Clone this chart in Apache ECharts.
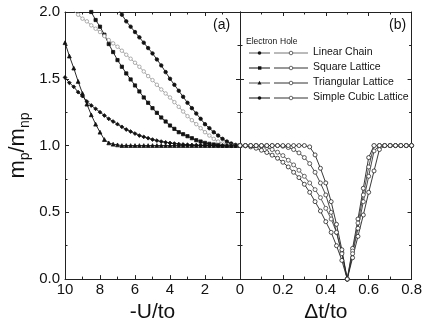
<!DOCTYPE html>
<html><head><meta charset="utf-8">
<script src="https://cdn.jsdelivr.net/npm/echarts@6/dist/echarts.min.js"></script>
<style>html,body{margin:0;padding:0;background:#fff}#c{width:425px;height:328px}</style>
</head><body><div id="c"></div>
<script>
// Panel (a): -U/to grid
const uA = [10,9.75,9.5,9.25,9,8.75,8.5,8.25,8,7.75,7.5,7.25,7,6.75,6.5,6.25,6,5.75,5.5,5.25,5,4.75,4.5,4.25,4,3.75,3.5,3.25,3,2.75,2.5,2.25,2,1.75,1.5,1.25,1,0.75,0.5,0.25,0];
const a1 = [null,null,null,null,null,null,null,null,null,null,null,null,2.03,1.98,1.93,1.89,1.85,1.81,1.77,1.73,1.69,1.645,1.60,1.55,1.50,1.455,1.41,1.365,1.32,1.28,1.24,1.20,1.16,1.13,1.10,1.075,1.05,1.03,1.015,1.005,1.0];
const a2 = [null,null,null,null,null,2.07,2.0,1.94,1.89,1.83,1.76,1.70,1.64,1.59,1.54,1.495,1.45,1.405,1.36,1.32,1.28,1.245,1.21,1.18,1.15,1.125,1.10,1.085,1.07,1.055,1.04,1.03,1.02,1.013,1.008,1.004,1.0,1.0,1.0,1.0,1.0];
const a3 = [null,null,2.007,1.98,1.95,1.93,1.90,1.875,1.85,1.82,1.79,1.765,1.74,1.71,1.68,1.65,1.62,1.59,1.555,1.52,1.49,1.455,1.42,1.39,1.36,1.325,1.29,1.255,1.22,1.19,1.16,1.13,1.10,1.075,1.05,1.03,1.015,1.005,1.0,1.0,1.0];
const a4 = [1.77,1.67,1.58,1.48,1.39,1.31,1.23,1.16,1.10,1.045,1.02,1.01,1.005,1,1,1,1,1,1,1,1,1,1,1,1,1,1,1,1,1,1,1,1,1,1,1,1,1,1,1,1];
const a5 = [1.51,1.47,1.44,1.40,1.37,1.33,1.30,1.275,1.25,1.225,1.20,1.18,1.16,1.14,1.12,1.105,1.09,1.075,1.065,1.055,1.045,1.037,1.03,1.024,1.019,1.015,1.011,1.008,1.006,1.004,1.003,1.002,1.001,1,1,1,1,1,1,1,1];

// Panel (b): Δt/to grid
const tB = [0,0.025,0.05,0.075,0.1,0.125,0.15,0.175,0.2,0.225,0.25,0.275,0.3,0.325,0.35,0.375,0.4,0.425,0.45,0.475,0.5,0.525,0.55,0.575,0.6,0.625,0.65,0.675,0.7,0.725,0.75,0.775,0.8];
const bLinear = [1.0,0.998,0.99,0.98,0.965,0.948,0.928,0.905,0.875,0.84,0.80,0.76,0.71,0.65,0.58,0.51,0.43,0.35,0.25,0.14,0,0.23,0.45,0.68,0.91,1,1,1,1,1,1,1,1];
const bSquare = [1,1,1,1,0.995,0.985,0.97,0.95,0.925,0.89,0.855,0.815,0.77,0.72,0.67,0.61,0.53,0.45,0.35,0.2,0,0.21,0.42,0.63,0.84,1,1,1,1,1,1,1,1];
const bTriangular = [1,1,1,1,1,1,1,1,0.995,0.985,0.97,0.945,0.91,0.865,0.80,0.72,0.63,0.5,0.35,0.19,0,0.19,0.38,0.58,0.77,0.96,1,1,1,1,1,1,1];
const bCubic = [1,1,1,1,1,1,1,1,1,1,1,1,1,0.99,0.93,0.83,0.72,0.58,0.41,0.22,0,0.16,0.32,0.48,0.65,0.81,0.97,1,1,1,1,1,1];

const yTicks = ['0.0','0.5','1.0','1.5','2.0'];
const legendNames = ['Linear Chain','Square Lattice','Triangular Lattice','Simple Cubic Lattice'];

function pairs(xs, ys){ const r=[]; xs.forEach((x,i)=>{ if(ys[i]!==null) r.push([x,ys[i]]); }); return r; }

const FONT = 'Liberation Sans';
const AX = '#222';
const lineAxis = {show:true, onZero:false, lineStyle:{color:AX,width:1}};
const tick = {show:true, inside:true, length:4, lineStyle:{color:AX}};
const minor = {show:true, splitNumber:2, length:2.5, lineStyle:{color:AX}};
const lbl = {color:'#111', fontSize:15, fontFamily:FONT};

function xAx(grid, pos, show, extra){
  return Object.assign({type:'value', gridIndex:grid, position:pos, axisLine:lineAxis, axisTick:tick, minorTick:minor, splitLine:{show:false},
    axisLabel:Object.assign({show:show, margin:3}, lbl)}, extra);
}
function yAx(grid, pos, show, extra){
  return Object.assign({type:'value', gridIndex:grid, position:pos, min:0, max:2, interval:0.5, axisLine:lineAxis, axisTick:tick, minorTick:minor, splitLine:{show:false},
    axisLabel:Object.assign({show:show, margin:5, formatter:v=>yTicks[Math.round(v/0.5)]}, lbl)}, extra);
}

const aX = {min:0,max:10,interval:2,inverse:true};
const bX = {min:0,max:0.8,interval:0.2};

function sA(ys, sym, color, fill, size){
  return {type:'line', xAxisIndex:0, yAxisIndex:0, data:pairs(uA,ys), symbol:sym, symbolSize:size, showSymbol:true,
    lineStyle:{color:color,width:0.9}, itemStyle:{color:fill, borderColor:color, borderWidth:0.8}, clip:true, silent:true};
}
function sB(name, ys, color){
  return {type:'line', name:name, xAxisIndex:2, yAxisIndex:2, data:pairs(tB,ys), symbol:'circle', symbolSize:4, showSymbol:true,
    lineStyle:{color:color,width:0.9}, itemStyle:{color:'#fff', borderColor:color, borderWidth:0.8}, clip:true, silent:true};
}

// legend graphics
const rowsY = [53,68,83,98];
const eSyms = ['circle','rect','triangle','circle'];
const g = [];
g.push({type:'text', left:246, top:37, style:{text:'Electron', font:'8.5px '+FONT, fill:'#111'}});
g.push({type:'text', left:280, top:37, style:{text:'Hole', font:'8.5px '+FONT, fill:'#111'}});
rowsY.forEach((y,i)=>{
  g.push({type:'line', shape:{x1:249,y1:y,x2:270,y2:y}, style:{stroke:i%2===0?'#555':'#111', lineWidth:1}});
  if(eSyms[i]==='rect') g.push({type:'rect', shape:{x:258,y:y-1.7,width:3.4,height:3.4}, style:{fill:'#111'}});
  else if(eSyms[i]==='triangle') g.push({type:'polygon', shape:{points:[[259.5,y-2.2],[257.5,y+1.5],[261.5,y+1.5]]}, style:{fill:'#111'}});
  else g.push({type:'circle', shape:{cx:259.5,cy:y,r:1.8}, style:{fill:'#111'}});
  g.push({type:'line', shape:{x1:274,y1:y,x2:308,y2:y}, style:{stroke:i===0?'#777':'#333', lineWidth:1}});
  g.push({type:'circle', shape:{cx:291,cy:y,r:1.8}, style:{fill:'#fff', stroke:'#444', lineWidth:0.8}});
  g.push({type:'text', left:313, top:y-6, style:{text:legendNames[i], font:'10.5px '+FONT, fill:'#111'}});
});
g.push({type:'text', left:213, top:18, style:{text:'(a)', font:'14px '+FONT, fill:'#111'}});
g.push({type:'text', left:389, top:18, style:{text:'(b)', font:'14px '+FONT, fill:'#111'}});

const option = {
  animation:false,
  backgroundColor:'#fff',
  textStyle:{fontFamily:FONT},
  grid:[
    {left:65, right:185, top:12, bottom:46},
    {left:240, right:11, top:12, bottom:46}
  ],
  xAxis:[
    xAx(0,'bottom',true, Object.assign({}, aX, {axisLabel:Object.assign({show:true,margin:3, formatter:v=>v===0?'':String(v)}, lbl),
      name:'-U/to', nameLocation:'middle', nameGap:19, nameTextStyle:{fontSize:21, fontFamily:FONT, color:'#111', verticalAlign:'top'}})),
    xAx(0,'top',false, aX),
    xAx(1,'bottom',true, Object.assign({}, bX, {axisLabel:Object.assign({show:true,margin:3, formatter:v=>v===0?'0':v.toFixed(1)}, lbl),
      name:'Δt/to', nameLocation:'middle', nameGap:19, nameTextStyle:{fontSize:21, fontFamily:FONT, color:'#111', verticalAlign:'top'}})),
    xAx(1,'top',false, bX)
  ],
  yAxis:[
    yAx(0,'left',true, {name:'{m|m}{s|p}{m|/m}{s|np}', nameLocation:'middle', nameRotate:90, nameGap:33,
      nameTextStyle:{fontFamily:FONT, color:'#111', rich:{
        m:{fontSize:22, fontFamily:FONT, color:'#111', lineHeight:28, verticalAlign:'middle'},
        s:{fontSize:14, fontFamily:FONT, color:'#111', lineHeight:28, verticalAlign:'bottom'}}}}),
    yAx(0,'right',false),
    yAx(1,'left',false),
    yAx(1,'right',false)
  ],
  graphic:g,
  series:[
    sA(a1,'circle','#111','#111',3.5),
    sA(a2,'rect','#111','#111',3.2),
    sA(a3,'circle','#999','#fff',3.5),
    sA(a4,'triangle','#111','#111',3.8),
    sA(a5,'diamond','#111','#111',3.8),
    sB(legendNames[0], bLinear, '#222'),
    sB(legendNames[1], bSquare, '#444'),
    sB(legendNames[2], bTriangular, '#333'),
    sB(legendNames[3], bCubic, '#222')
  ]
};
const chart = echarts.init(document.getElementById('c'), null, {renderer:'canvas'});
chart.setOption(option);
</script></body></html>
